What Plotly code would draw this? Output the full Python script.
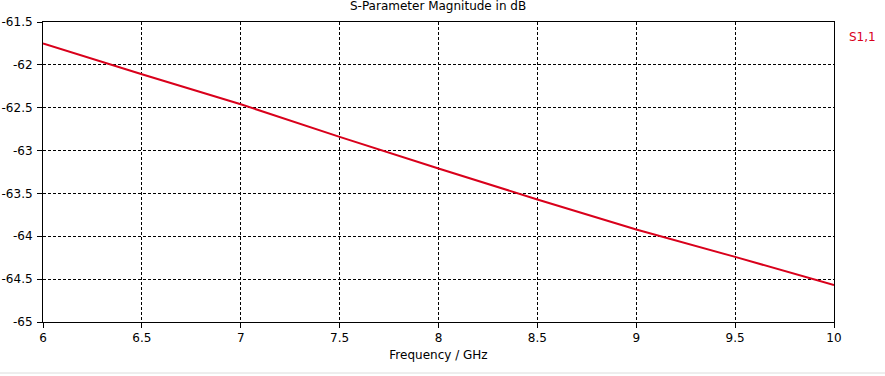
import plotly.graph_objects as go

freq_ghz = [6.0, 6.5, 7.0, 7.5, 8.0, 8.5, 9.0, 9.5, 10.0]
s11_db = [-61.75, -62.11, -62.46, -62.84, -63.21, -63.57, -63.92, -64.24, -64.57]

x_ticks = [6, 6.5, 7, 7.5, 8, 8.5, 9, 9.5, 10]
x_labels = ["6", "6.5", "7", "7.5", "8", "8.5", "9", "9.5", "10"]
y_ticks = [-65, -64.5, -64, -63.5, -63, -62.5, -62, -61.5]
y_labels = ["-65", "-64.5", "-64", "-63.5", "-63", "-62.5", "-62", "-61.5"]

red = "#d9001b"
font = "DejaVu Sans, Tahoma, sans-serif"

fig = go.Figure()
fig.add_trace(go.Scatter(x=freq_ghz, y=s11_db, mode="lines",
                         line=dict(color=red, width=2), name="S1,1",
                         showlegend=False))

fig.update_layout(
    width=885, height=376,
    margin=dict(l=43, r=51, t=22, b=54, autoexpand=False),
    paper_bgcolor="white", plot_bgcolor="white",
    font=dict(family=font, size=12, color="black"),
    title=dict(text="S-Parameter Magnitude in dB", x=0.495, xanchor="center",
               yref="container", y=1.0, yanchor="top", pad=dict(t=2),
               font=dict(size=12)),
    showlegend=False,
)

fig.update_xaxes(range=[6, 10], tickmode="array", tickvals=x_ticks, ticktext=x_labels,
                 showline=True, linecolor="black", linewidth=1, mirror=True,
                 ticks="outside", ticklen=5, tickcolor="black",
                 showgrid=True, gridcolor="black", gridwidth=1, griddash="3px,2px",
                 zeroline=False, automargin=False,
                 title=dict(text="Frequency / GHz", standoff=6, font=dict(size=12)))
fig.update_yaxes(range=[-65, -61.5], tickmode="array", tickvals=y_ticks, ticktext=y_labels,
                 showline=True, linecolor="black", linewidth=1, mirror=True,
                 ticks="outside", ticklen=5, tickcolor="black",
                 showgrid=True, gridcolor="black", gridwidth=1, griddash="3px,2px",
                 zeroline=False, automargin=False, ticklabelstandoff=2)

fig.add_annotation(text="S1,1", xref="paper", yref="paper", x=1.016, y=0.95,
                   xanchor="left", yanchor="middle", showarrow=False,
                   font=dict(color=red, size=12, family=font))

fig.add_shape(type="line", xref="paper", yref="paper", x0=-0.06, x1=1.07,
              y0=-0.17, y1=-0.17, line=dict(color="#dcdcdc", width=1))

fig.write_html("out.html", config={"displayModeBar": False},
               post_script="document.body.style.margin='0px';document.body.style.overflow='hidden';")
